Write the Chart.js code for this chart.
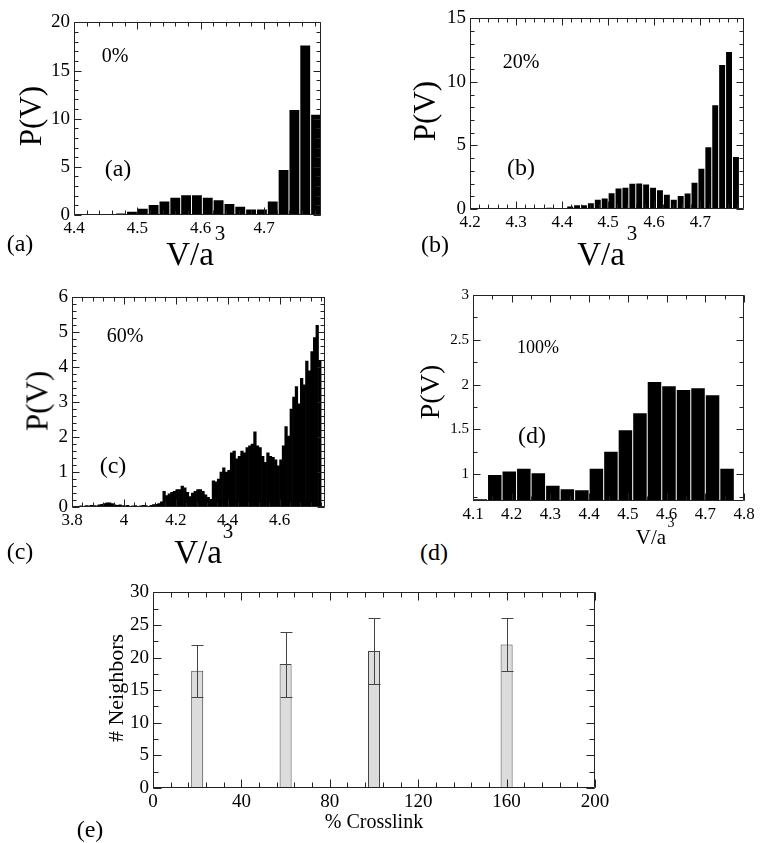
<!DOCTYPE html>
<html>
<head>
<meta charset="utf-8">
<script src="https://cdn.jsdelivr.net/npm/chart.js@4.4.0/dist/chart.umd.min.js"></script>
<style>
  body { margin: 0; background: #fff; }
  #fig { position: relative; width: 762px; height: 843px; overflow: hidden;
         font-family: "Liberation Serif", "DejaVu Serif", serif; color: #000; }
  canvas { position: absolute; }
  .lbl { position: absolute; white-space: nowrap; line-height: 1; transform: translate(-50%, -50%); }
  .rot { transform: translate(-50%, -50%) rotate(-90deg); }
</style>
</head>
<body>
<div id="fig"></div>
<script>
// ---- (a) 0% crosslink ----
const aBins = [4.4573, 4.4744, 4.4915, 4.5086, 4.5257, 4.5428, 4.5599, 4.5770, 4.5941, 4.6112,
               4.6283, 4.6454, 4.6625, 4.6796, 4.6967, 4.7138, 4.7309, 4.7480, 4.7651, 4.7822];
const aVals = [0.05, 0.15, 0.35, 0.65, 1.05, 1.4, 1.8, 2.04, 2.04, 1.8,
               1.53, 1.15, 0.85, 0.58, 0.58, 1.4, 4.66, 10.9, 17.6, 10.4];
const aXTicks = [4.4, 4.5, 4.6, 4.7];
const aYTicks = [0, 5, 10, 15, 20];

// ---- (b) 20% crosslink ----
const bBins = [4.2375, 4.2825, 4.3275, 4.3725, 4.3875, 4.4025, 4.4175, 4.4325, 4.4475, 4.4625,
               4.4775, 4.4925, 4.5075, 4.5225, 4.5375, 4.5525, 4.5675, 4.5825, 4.5975, 4.6125,
               4.6275, 4.6425, 4.6575, 4.6725, 4.6875, 4.7025, 4.7175, 4.7325, 4.7475, 4.7625, 4.7775];
const bVals = [0.03, 0.08, 0.03, 0.1, 0.05, 0.08, 0.2, 0.3, 0.3, 0.46,
               0.72, 0.82, 1.24, 1.62, 1.68, 1.98, 2.0, 1.93, 1.68, 1.47,
               1.13, 0.72, 1.03, 1.21, 2.06, 3.17, 4.85, 8.17, 11.34, 12.35, 4.1];
const bXTicks = [4.2, 4.3, 4.4, 4.5, 4.6, 4.7];
const bYTicks = [0, 5, 10, 15];

// ---- (c) 60% crosslink ----
const cBins = [3.805, 3.815, 3.825, 3.835, 3.845, 3.855, 3.865, 3.875, 3.885, 3.895,
               3.905, 3.915, 3.925, 3.935, 3.945, 3.955, 3.965, 3.975, 3.985, 3.995,
               4.005, 4.015, 4.025, 4.035, 4.045, 4.055, 4.065, 4.075, 4.085, 4.095,
               4.105, 4.115, 4.125, 4.135, 4.145, 4.155, 4.165, 4.175, 4.185, 4.195,
               4.205, 4.215, 4.225, 4.235, 4.245, 4.255, 4.265, 4.275, 4.285, 4.295,
               4.305, 4.315, 4.325, 4.335, 4.345, 4.355, 4.365, 4.375, 4.385, 4.395,
               4.405, 4.415, 4.425, 4.435, 4.445, 4.455, 4.465, 4.475, 4.485, 4.495,
               4.505, 4.515, 4.525, 4.535, 4.545, 4.555, 4.565, 4.575, 4.585, 4.595,
               4.605, 4.615, 4.625, 4.635, 4.645, 4.655, 4.665, 4.675, 4.685, 4.695,
               4.705, 4.715, 4.725, 4.735, 4.745, 4.755];
const cVals = [0, 0.02, 0, 0.03, 0.02, 0.04, 0.03, 0.05, 0.04, 0.03,
               0.06, 0.08, 0.1, 0.12, 0.12, 0.1, 0.06, 0.05, 0.06, 0.04,
               0.03, 0.05, 0.02, 0.03, 0.04, 0.02, 0.03, 0.05, 0.04, 0.02,
               0.05, 0.07, 0.08, 0.1, 0.15, 0.45, 0.33, 0.38, 0.42, 0.45,
               0.5, 0.5, 0.6, 0.55, 0.42, 0.3, 0.4, 0.45, 0.5, 0.5,
               0.45, 0.35, 0.28, 0.22, 0.75, 0.72, 0.8, 1.0, 1.12, 1.0,
               1.05, 1.55, 1.6, 1.38, 1.45, 1.6, 1.55, 1.7, 1.75, 1.8,
               2.15, 1.75, 1.7, 1.45, 1.28, 1.55, 1.45, 1.42, 1.35, 1.18,
               1.35, 1.75, 2.3, 2.03, 2.8, 3.15, 3.45, 2.95, 3.68, 3.5,
               4.18, 3.9, 4.45, 4.85, 5.2, 4.2];
const cXTicks = [3.8, 4, 4.2, 4.4, 4.6];
const cYTicks = [0, 1, 2, 3, 4, 5, 6];

// ---- (d) 100% crosslink ----
const dBins = [4.11875, 4.15625, 4.19375, 4.23125, 4.26875, 4.30625, 4.34375, 4.38125, 4.41875,
               4.45625, 4.49375, 4.53125, 4.56875, 4.60625, 4.64375, 4.68125, 4.71875, 4.75625];
const dVals = [0.72, 0.99, 1.03, 1.06, 1.01, 0.87, 0.83, 0.82, 1.06,
               1.25, 1.49, 1.68, 2.03, 1.98, 1.94, 1.96, 1.88, 1.06];
const dXTicks = [4.1, 4.2, 4.3, 4.4, 4.5, 4.6, 4.7, 4.8];
const dYTicks = [1, 1.5, 2, 2.5, 3];

// ---- (e) neighbours vs crosslink ----
const crosslink = [20, 60, 100, 160];
const neighbors = [18, 19, 21, 22];
const nbLow = [14, 14, 16, 18];
const nbHigh = [22, 24, 26, 26];
const eXTicks = [0, 40, 80, 120, 160, 200];
const eYTicks = [0, 5, 10, 15, 20, 25, 30];

const fig = document.getElementById("fig");
const serif = '"Liberation Serif", "DejaVu Serif", serif';
const fmt = v => String(+Number(v).toFixed(2));

function steps(min, max, step) {
    const out = [];
    for (let k = Math.ceil(min / step - 1e-6); k * step <= max + 1e-9; k++) out.push(k * step);
    return out;
}

// box + inward ticks on all four sides
function frame(xMinor, yMinor, majLen, minLen) {
    return {
        id: "frame",
        afterDatasetsDraw(chart) {
            const { ctx, chartArea: a, scales: { x, y } } = chart;
            const L = Math.round(a.left) + 0.5, R = Math.round(a.right) - 0.5;
            const T = Math.round(a.top) + 0.5, B = Math.round(a.bottom) - 0.5;
            ctx.save();
            ctx.strokeStyle = "#222";
            ctx.lineWidth = 1;
            ctx.beginPath();
            ctx.rect(L, T, R - L, B - T);
            const xt = (v, len) => {
                const p = Math.round(x.getPixelForValue(v)) + 0.5;
                ctx.moveTo(p, B); ctx.lineTo(p, B - len);
                ctx.moveTo(p, T); ctx.lineTo(p, T + len);
            };
            const yt = (v, len) => {
                const p = Math.round(y.getPixelForValue(v)) + 0.5;
                ctx.moveTo(L, p); ctx.lineTo(L + len, p);
                ctx.moveTo(R, p); ctx.lineTo(R - len, p);
            };
            steps(x.min, x.max, xMinor).forEach(v => xt(v, minLen));
            steps(y.min, y.max, yMinor).forEach(v => yt(v, minLen));
            x.ticks.forEach(t => xt(t.value, majLen));
            y.ticks.forEach(t => yt(t.value, majLen));
            ctx.stroke();
            ctx.restore();
        }
    };
}

// box = plot area in page pixels
function panel(box, bins, vals, o, extra) {
    const c = document.createElement("canvas");
    c.width = box.r - box.l + 70;
    c.height = box.b - box.t + 40;
    c.style.left = (box.l - 50) + "px";
    c.style.top = (box.t - 12) + "px";
    fig.appendChild(c);
    const plugins = [frame(o.xMinor, o.yMinor, o.major || 7, o.minor || 4)];
    if (extra) plugins.push(extra);
    return new Chart(c, {
        type: "bar",
        data: {
            datasets: [{
                data: bins.map((x, i) => ({ x, y: vals[i] })),
                backgroundColor: o.fill || "#000",
                borderColor: o.edge || "#000",
                borderWidth: o.edgeW || 0,
                barPercentage: o.bar || 1,
                categoryPercentage: 1,
                barThickness: o.thick,
                inflateAmount: o.inflate || 0
            }]
        },
        options: {
            responsive: false,
            animation: false,
            devicePixelRatio: 1,
            layout: { padding: { top: 12, right: 20, left: 0, bottom: 0 } },
            plugins: { legend: { display: false }, tooltip: { enabled: false } },
            scales: {
                x: {
                    type: "linear", min: o.xMin, max: o.xMax, offset: false,
                    grid: { display: false, drawTicks: false }, border: { display: false },
                    ticks: { font: { family: serif, size: o.xFont }, color: "#000", padding: 3,
                             maxRotation: 0, autoSkip: false, callback: fmt },
                    afterBuildTicks: s => { s.ticks = o.xTicks.map(value => ({ value })); },
                    afterFit: s => { s.height = 28; }
                },
                y: {
                    min: o.yMin, max: o.yMax,
                    grid: { display: false, drawTicks: false }, border: { display: false },
                    ticks: { font: { family: serif, size: o.yFont }, color: "#000", padding: 4,
                             autoSkip: false, callback: fmt },
                    afterBuildTicks: s => { s.ticks = o.yTicks.map(value => ({ value })); },
                    afterFit: s => { s.width = 50; }
                }
            }
        },
        plugins
    });
}

function label(html, x, y, size, rot) {
    const d = document.createElement("div");
    d.className = rot ? "lbl rot" : "lbl";
    d.innerHTML = html;
    d.style.left = x + "px";
    d.style.top = y + "px";
    d.style.fontSize = size + "px";
    fig.appendChild(d);
}

// -----------------------------
// Panels
// -----------------------------
panel({ l: 74, t: 19, r: 321, b: 215 }, aBins, aVals,
      { xMin: 4.4, xMax: 4.79, yMin: 0, yMax: 20, xTicks: aXTicks, yTicks: aYTicks,
        xMinor: 0.02, yMinor: 1, bar: 0.91, xFont: 17, yFont: 19 });

panel({ l: 470, t: 15, r: 744, b: 209 }, bBins, bVals,
      { xMin: 4.2, xMax: 4.795, yMin: 0, yMax: 15, xTicks: bXTicks, yTicks: bYTicks,
        xMinor: 0.02, yMinor: 1, bar: 0.86, xFont: 17, yFont: 19 });

panel({ l: 72, t: 294, r: 325, b: 507 }, cBins, cVals,
      { xMin: 3.8, xMax: 4.775, yMin: 0, yMax: 6, xTicks: cXTicks, yTicks: cYTicks,
        xMinor: 0.04, yMinor: 0.2, bar: 1, inflate: "auto", xFont: 17, yFont: 19 });

panel({ l: 473, t: 294, r: 744, b: 501 }, dBins, dVals,
      { xMin: 4.1, xMax: 4.8, yMin: 0.7, yMax: 3, xTicks: dXTicks, yTicks: dYTicks,
        xMinor: 0.05, yMinor: 0.25, bar: 0.93, xFont: 17, yFont: 15 });

// error bars for (e)
const errBars = {
    id: "errBars",
    afterDatasetsDraw(chart) {
        const { ctx, scales: { y } } = chart;
        const bars = chart.getDatasetMeta(0).data;
        ctx.save();
        ctx.strokeStyle = "#444";
        ctx.lineWidth = 1;
        ctx.beginPath();
        bars.forEach((b, i) => {
            const cx = Math.round(b.x) + 0.5, hw = b.width / 2;
            const lo = Math.round(y.getPixelForValue(nbLow[i])) + 0.5;
            const hi = Math.round(y.getPixelForValue(nbHigh[i])) + 0.5;
            ctx.moveTo(cx, lo); ctx.lineTo(cx, hi);
            ctx.moveTo(cx - hw, lo); ctx.lineTo(cx + hw, lo);
            ctx.moveTo(cx - hw, hi); ctx.lineTo(cx + hw, hi);
        });
        ctx.stroke();
        ctx.restore();
    }
};

panel({ l: 153, t: 589, r: 595, b: 788 }, crosslink, neighbors,
      { xMin: 0, xMax: 200, yMin: 0, yMax: 30, xTicks: eXTicks, yTicks: eYTicks,
        xMinor: 8, yMinor: 2.5, thick: 12, fill: "#dcdcdc", edge: "#444", edgeW: 1,
        xFont: 19, yFont: 19, major: 8, minor: 5 }, errBars);

// -----------------------------
// Text
// -----------------------------
label("P(V)", 30, 116, 31, true);
label("V/a", 190, 254, 33);
label("3", 220, 233, 21);
label("0%", 115, 55, 20);
label("(a)", 118, 168, 24);
label("(a)", 20, 243, 24);

label("P(V)", 424, 111, 31, true);
label("V/a", 601, 254, 33);
label("3", 632, 233, 21);
label("20%", 521, 61, 20);
label("(b)", 521, 167, 24);
label("(b)", 435, 244, 24);

label("P(V)", 37, 401, 31, true);
label("V/a", 198, 552, 33);
label("3", 228, 531, 21);
label("60%", 125, 335, 20);
label("(c)", 113, 465, 24);
label("(c)", 20, 551, 24);

label("P(V)", 430, 392, 28, true);
label("V/a", 651, 537, 21);
label("3", 671, 523, 14);
label("100%", 538, 347, 18);
label("(d)", 532, 435, 24);
label("(d)", 434, 552, 24);

label("# Neighbors", 116, 688, 22, true);
label("% Crosslink", 374, 821, 20);
label("(e)", 90, 829, 24);
</script>
</body>
</html>
